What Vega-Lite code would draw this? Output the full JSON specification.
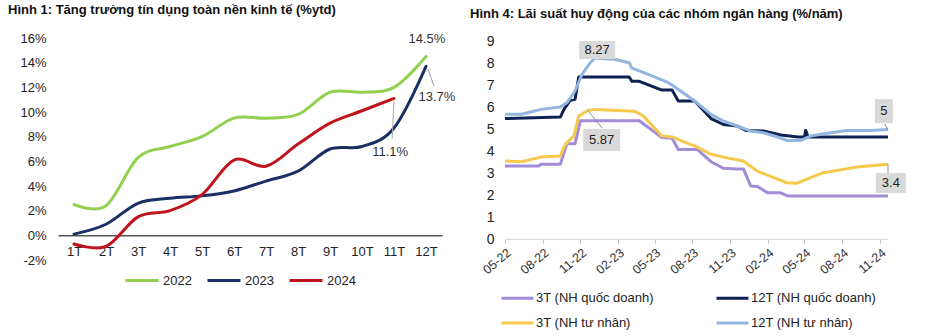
{
  "$schema": "https://vega.github.io/schema/vega-lite/v6.json",
  "background": "white",
  "padding": {"left": 8, "top": 3, "right": 0, "bottom": 0},
  "config": {
    "view": {"stroke": null},
    "font": "Liberation Sans",
    "axis": {"labelFont": "Liberation Sans", "labelColor": "#222222", "labelOverlap": false},
    "legend": {"labelFont": "Liberation Sans", "labelColor": "#222222"},
    "title": {"font": "Liberation Sans", "fontWeight": "bold", "fontSize": 13, "color": "#111111", "anchor": "start", "frame": "bounds"}
  },
  "datasets": {
    "credit": [
      {"m": 1, "s": "2022", "v": 2.5}, {"m": 2, "s": "2022", "v": 2.4}, {"m": 3, "s": "2022", "v": 6.3}, {"m": 4, "s": "2022", "v": 7.2},
      {"m": 5, "s": "2022", "v": 8.0}, {"m": 6, "s": "2022", "v": 9.5}, {"m": 7, "s": "2022", "v": 9.5}, {"m": 8, "s": "2022", "v": 9.8},
      {"m": 9, "s": "2022", "v": 11.6}, {"m": 10, "s": "2022", "v": 11.6}, {"m": 11, "s": "2022", "v": 12.0}, {"m": 12, "s": "2022", "v": 14.5},
      {"m": 1, "s": "2023", "v": 0.1}, {"m": 2, "s": "2023", "v": 0.9}, {"m": 3, "s": "2023", "v": 2.6}, {"m": 4, "s": "2023", "v": 3.0},
      {"m": 5, "s": "2023", "v": 3.2}, {"m": 6, "s": "2023", "v": 3.6}, {"m": 7, "s": "2023", "v": 4.4}, {"m": 8, "s": "2023", "v": 5.2},
      {"m": 9, "s": "2023", "v": 7.0}, {"m": 10, "s": "2023", "v": 7.2}, {"m": 11, "s": "2023", "v": 8.7}, {"m": 12, "s": "2023", "v": 13.7},
      {"m": 1, "s": "2024", "v": -0.7}, {"m": 2, "s": "2024", "v": -0.9}, {"m": 3, "s": "2024", "v": 1.5}, {"m": 4, "s": "2024", "v": 2.0},
      {"m": 5, "s": "2024", "v": 3.3}, {"m": 6, "s": "2024", "v": 6.1}, {"m": 7, "s": "2024", "v": 5.6}, {"m": 8, "s": "2024", "v": 7.4},
      {"m": 9, "s": "2024", "v": 9.1}, {"m": 10, "s": "2024", "v": 10.1}, {"m": 11, "s": "2024", "v": 11.1}
    ],
    "leftLabels": [
      {"m": 12.03, "v": 15.93, "label": "14.5%"},
      {"m": 12.34, "v": 11.2, "label": "13.7%"},
      {"m": 10.88, "v": 6.75, "label": "11.1%"}
    ],
    "leftLeaders": [
      {"m": 12.06, "v": 13.5, "m2": 12.25, "v2": 12.1},
      {"m": 11.0, "v": 10.9, "m2": 10.94, "v2": 7.8}
    ],
    "rates": [
      {"d": "2022-05-01", "s": "3T (NH quốc doanh)", "v": 3.33}, {"d": "2022-07-22", "s": "3T (NH quốc doanh)", "v": 3.33},
      {"d": "2022-07-28", "s": "3T (NH quốc doanh)", "v": 3.41}, {"d": "2022-09-13", "s": "3T (NH quốc doanh)", "v": 3.41},
      {"d": "2022-09-29", "s": "3T (NH quốc doanh)", "v": 4.35}, {"d": "2022-10-19", "s": "3T (NH quốc doanh)", "v": 4.35},
      {"d": "2022-11-01", "s": "3T (NH quốc doanh)", "v": 5.4}, {"d": "2023-03-25", "s": "3T (NH quốc doanh)", "v": 5.4},
      {"d": "2023-05-19", "s": "3T (NH quốc doanh)", "v": 4.63}, {"d": "2023-06-13", "s": "3T (NH quốc doanh)", "v": 4.6},
      {"d": "2023-06-28", "s": "3T (NH quốc doanh)", "v": 4.09}, {"d": "2023-08-13", "s": "3T (NH quốc doanh)", "v": 4.09},
      {"d": "2023-09-16", "s": "3T (NH quốc doanh)", "v": 3.53}, {"d": "2023-10-16", "s": "3T (NH quốc doanh)", "v": 3.23},
      {"d": "2023-11-19", "s": "3T (NH quốc doanh)", "v": 3.2}, {"d": "2023-12-04", "s": "3T (NH quốc doanh)", "v": 3.2},
      {"d": "2023-12-22", "s": "3T (NH quốc doanh)", "v": 2.42}, {"d": "2024-01-07", "s": "3T (NH quốc doanh)", "v": 2.4},
      {"d": "2024-02-01", "s": "3T (NH quốc doanh)", "v": 2.11}, {"d": "2024-03-04", "s": "3T (NH quốc doanh)", "v": 2.11},
      {"d": "2024-03-22", "s": "3T (NH quốc doanh)", "v": 1.96}, {"d": "2024-11-21", "s": "3T (NH quốc doanh)", "v": 1.96},

      {"d": "2022-05-01", "s": "12T (NH quốc doanh)", "v": 5.5}, {"d": "2022-09-13", "s": "12T (NH quốc doanh)", "v": 5.57},
      {"d": "2022-09-22", "s": "12T (NH quốc doanh)", "v": 5.92}, {"d": "2022-10-07", "s": "12T (NH quốc doanh)", "v": 6.33},
      {"d": "2022-10-19", "s": "12T (NH quốc doanh)", "v": 6.38}, {"d": "2022-10-28", "s": "12T (NH quốc doanh)", "v": 7.4},
      {"d": "2023-02-28", "s": "12T (NH quốc doanh)", "v": 7.4}, {"d": "2023-03-07", "s": "12T (NH quốc doanh)", "v": 7.2},
      {"d": "2023-03-25", "s": "12T (NH quốc doanh)", "v": 7.2}, {"d": "2023-05-19", "s": "12T (NH quốc doanh)", "v": 6.8},
      {"d": "2023-06-13", "s": "12T (NH quốc doanh)", "v": 6.8}, {"d": "2023-06-28", "s": "12T (NH quốc doanh)", "v": 6.3},
      {"d": "2023-08-07", "s": "12T (NH quốc doanh)", "v": 6.3}, {"d": "2023-09-16", "s": "12T (NH quốc doanh)", "v": 5.5},
      {"d": "2023-10-16", "s": "12T (NH quốc doanh)", "v": 5.23}, {"d": "2023-11-19", "s": "12T (NH quốc doanh)", "v": 5.16},
      {"d": "2023-12-10", "s": "12T (NH quốc doanh)", "v": 4.96}, {"d": "2024-01-22", "s": "12T (NH quốc doanh)", "v": 4.93},
      {"d": "2024-03-04", "s": "12T (NH quốc doanh)", "v": 4.75}, {"d": "2024-04-16", "s": "12T (NH quốc doanh)", "v": 4.66},
      {"d": "2024-05-01", "s": "12T (NH quốc doanh)", "v": 4.66}, {"d": "2024-05-04", "s": "12T (NH quốc doanh)", "v": 4.96},
      {"d": "2024-05-10", "s": "12T (NH quốc doanh)", "v": 4.66}, {"d": "2024-11-21", "s": "12T (NH quốc doanh)", "v": 4.66},

      {"d": "2022-05-01", "s": "3T (NH tư nhân)", "v": 3.56}, {"d": "2022-06-10", "s": "3T (NH tư nhân)", "v": 3.53},
      {"d": "2022-07-28", "s": "3T (NH tư nhân)", "v": 3.74}, {"d": "2022-09-13", "s": "3T (NH tư nhân)", "v": 3.79},
      {"d": "2022-09-25", "s": "3T (NH tư nhân)", "v": 4.32}, {"d": "2022-10-16", "s": "3T (NH tư nhân)", "v": 4.7},
      {"d": "2022-10-28", "s": "3T (NH tư nhân)", "v": 5.62}, {"d": "2022-11-19", "s": "3T (NH tư nhân)", "v": 5.87},
      {"d": "2022-12-07", "s": "3T (NH tư nhân)", "v": 5.92}, {"d": "2023-03-13", "s": "3T (NH tư nhân)", "v": 5.84},
      {"d": "2023-04-04", "s": "3T (NH tư nhân)", "v": 5.62}, {"d": "2023-05-19", "s": "3T (NH tư nhân)", "v": 4.7},
      {"d": "2023-06-13", "s": "3T (NH tư nhân)", "v": 4.66}, {"d": "2023-07-27", "s": "3T (NH tư nhân)", "v": 4.32},
      {"d": "2023-08-07", "s": "3T (NH tư nhân)", "v": 4.25}, {"d": "2023-09-16", "s": "3T (NH tư nhân)", "v": 3.87},
      {"d": "2023-10-16", "s": "3T (NH tư nhân)", "v": 3.74}, {"d": "2023-12-04", "s": "3T (NH tư nhân)", "v": 3.56},
      {"d": "2024-01-07", "s": "3T (NH tư nhân)", "v": 3.1}, {"d": "2024-02-16", "s": "3T (NH tư nhân)", "v": 2.8},
      {"d": "2024-03-19", "s": "3T (NH tư nhân)", "v": 2.57}, {"d": "2024-04-13", "s": "3T (NH tư nhân)", "v": 2.55},
      {"d": "2024-05-16", "s": "3T (NH tư nhân)", "v": 2.8}, {"d": "2024-06-16", "s": "3T (NH tư nhân)", "v": 3.03},
      {"d": "2024-08-04", "s": "3T (NH tư nhân)", "v": 3.18}, {"d": "2024-09-07", "s": "3T (NH tư nhân)", "v": 3.29},
      {"d": "2024-11-21", "s": "3T (NH tư nhân)", "v": 3.41},

      {"d": "2022-05-01", "s": "12T (NH tư nhân)", "v": 5.7}, {"d": "2022-06-10", "s": "12T (NH tư nhân)", "v": 5.7},
      {"d": "2022-07-28", "s": "12T (NH tư nhân)", "v": 5.92}, {"d": "2022-09-13", "s": "12T (NH tư nhân)", "v": 6.03},
      {"d": "2022-09-29", "s": "12T (NH tư nhân)", "v": 6.22}, {"d": "2022-10-19", "s": "12T (NH tư nhân)", "v": 6.76},
      {"d": "2022-11-05", "s": "12T (NH tư nhân)", "v": 7.52}, {"d": "2022-11-25", "s": "12T (NH tư nhân)", "v": 8.05},
      {"d": "2022-12-07", "s": "12T (NH tư nhân)", "v": 8.27}, {"d": "2023-01-25", "s": "12T (NH tư nhân)", "v": 8.2},
      {"d": "2023-02-28", "s": "12T (NH tư nhân)", "v": 8.05}, {"d": "2023-03-07", "s": "12T (NH tư nhân)", "v": 7.8},
      {"d": "2023-04-16", "s": "12T (NH tư nhân)", "v": 7.52}, {"d": "2023-06-04", "s": "12T (NH tư nhân)", "v": 7.14},
      {"d": "2023-06-19", "s": "12T (NH tư nhân)", "v": 6.95}, {"d": "2023-08-07", "s": "12T (NH tư nhân)", "v": 6.3},
      {"d": "2023-09-16", "s": "12T (NH tư nhân)", "v": 5.69}, {"d": "2023-10-16", "s": "12T (NH tư nhân)", "v": 5.39},
      {"d": "2023-11-19", "s": "12T (NH tư nhân)", "v": 5.16}, {"d": "2023-12-22", "s": "12T (NH tư nhân)", "v": 4.93},
      {"d": "2024-01-22", "s": "12T (NH tư nhân)", "v": 4.85}, {"d": "2024-02-25", "s": "12T (NH tư nhân)", "v": 4.66},
      {"d": "2024-03-19", "s": "12T (NH tư nhân)", "v": 4.5}, {"d": "2024-04-22", "s": "12T (NH tư nhân)", "v": 4.5},
      {"d": "2024-05-16", "s": "12T (NH tư nhân)", "v": 4.7}, {"d": "2024-07-04", "s": "12T (NH tư nhân)", "v": 4.85},
      {"d": "2024-08-13", "s": "12T (NH tư nhân)", "v": 4.96}, {"d": "2024-10-10", "s": "12T (NH tư nhân)", "v": 4.96},
      {"d": "2024-11-21", "s": "12T (NH tư nhân)", "v": 5.0}
    ],
    "rightLabels": [
      {"d": "2022-12-12", "v": 8.63, "label": "8.27"},
      {"d": "2022-12-23", "v": 4.52, "label": "5.87"},
      {"d": "2024-11-11", "v": 5.84, "label": "5"},
      {"d": "2024-11-28", "v": 2.56, "label": "3.4"}
    ],
    "rightLeaders": [
      {"d": "2022-11-19", "v": 5.87, "d2": "2022-12-24", "v2": 5.07},
      {"d": "2024-11-21", "v": 5.0, "d2": "2024-11-13", "v2": 5.25},
      {"d": "2024-11-21", "v": 3.41, "d2": "2024-11-21", "v2": 3.01}
    ]
  },
  "resolve": {"scale": {"color": "independent", "x": "independent", "y": "independent"}, "legend": {"color": "independent"}},
  "bounds": "flush",
  "spacing": 63,
  "hconcat": [
    {
      "width": 384,
      "height": 222,
      "title": {"text": "Hình 1: Tăng trưởng tín dụng toàn nền kinh tế (%ytd)", "offset": 15.5},
      "encoding": {
        "x": {"field": "m", "type": "quantitative", "scale": {"domain": [0.5, 12.5], "nice": false, "zero": false},
          "axis": {"values": [1,2,3,4,5,6,7,8,9,10,11,12], "labelExpr": "datum.value + 'T'", "title": null, "grid": false, "ticks": false,
            "labelOverlap": false, "labelFlush": false,
            "domain": true, "domainColor": "#000000", "domainWidth": 1, "offset": -24.67, "labelPadding": 10, "labelFontSize": 13}},
        "y": {"field": "v", "type": "quantitative", "scale": {"domain": [-2, 16], "nice": false},
          "axis": {"values": [-2,0,2,4,6,8,10,12,14,16], "labelExpr": "datum.value + '%'", "title": null, "grid": false, "ticks": false,
            "labelOverlap": false, "labelFlush": false,
            "domain": false, "labelPadding": 12, "minExtent": 50, "labelFontSize": 13}}
      },
      "layer": [
        {
          "data": {"name": "credit"},
          "mark": {"type": "line", "interpolate": "cardinal", "strokeWidth": 3, "strokeCap": "round"},
          "encoding": {
            "color": {"field": "s", "type": "nominal", "scale": {"domain": ["2022", "2023", "2024"], "range": ["#92D050", "#1B2F66", "#C0141C"]},
              "legend": {"orient": "none", "legendX": 66, "legendY": 224.5, "direction": "horizontal", "title": null, "symbolType": "stroke",
                "symbolSize": 1089, "symbolStrokeWidth": 3, "labelFontSize": 13, "labelOffset": 3, "columnPadding": 9}}
          }
        },
        {
          "data": {"name": "leftLeaders"},
          "mark": {"type": "rule", "color": "#a6a6a6", "strokeWidth": 1},
          "encoding": {"x2": {"field": "m2"}, "y2": {"field": "v2"}}
        },
        {
          "data": {"name": "leftLabels"},
          "mark": {"type": "text", "fontSize": 13, "color": "#333333", "align": "center", "baseline": "middle"},
          "encoding": {"text": {"field": "label"}}
        }
      ]
    },
    {
      "width": 383,
      "height": 201,
      "title": {"text": "Hình 4: Lãi suất huy động của các nhóm ngân hàng (%/năm)", "offset": 14},
      "encoding": {
        "x": {"field": "d", "type": "temporal",
          "scale": {"type": "utc", "nice": false, "domain": [{"year": 2022, "month": 5, "date": 1, "utc": true}, {"year": 2024, "month": 11, "date": 21, "utc": true}]},
          "axis": {"values": [
            {"year": 2022, "month": 5, "date": 1, "utc": true}, {"year": 2022, "month": 8, "date": 1, "utc": true},
            {"year": 2022, "month": 11, "date": 1, "utc": true}, {"year": 2023, "month": 2, "date": 1, "utc": true},
            {"year": 2023, "month": 5, "date": 1, "utc": true}, {"year": 2023, "month": 8, "date": 1, "utc": true},
            {"year": 2023, "month": 11, "date": 1, "utc": true}, {"year": 2024, "month": 2, "date": 1, "utc": true},
            {"year": 2024, "month": 5, "date": 1, "utc": true}, {"year": 2024, "month": 8, "date": 1, "utc": true},
            {"year": 2024, "month": 11, "date": 1, "utc": true}],
            "labelOverlap": false, "labelFlush": false,
            "format": "%m-%y", "labelAngle": -40, "title": null, "grid": false, "domainColor": "#d9d9d9", "tickColor": "#bfbfbf",
            "tickSize": 4, "labelPadding": 3, "labelFontSize": 12.5, "labelColor": "#333333"}},
        "y": {"field": "v", "type": "quantitative", "scale": {"domain": [0, 9.18], "nice": false},
          "axis": {"values": [0,1,2,3,4,5,6,7,8,9], "title": null, "grid": false, "ticks": false, "domain": false,
            "labelOverlap": false, "labelFlush": false,
            "labelPadding": 11, "minExtent": 35, "labelFontSize": 14}}
      },
      "layer": [
        {
          "data": {"name": "rates"},
          "mark": {"type": "line", "strokeWidth": 3, "strokeJoin": "round"},
          "encoding": {
            "color": {"field": "s", "type": "nominal",
              "scale": {"domain": ["3T (NH quốc doanh)", "12T (NH quốc doanh)", "3T (NH tư nhân)", "12T (NH tư nhân)"],
                "range": ["#A08CD8", "#0D2152", "#F6C84C", "#93B6E0"]},
              "legend": {"orient": "none", "legendX": -5, "legendY": 242.5, "columns": 2, "direction": "horizontal", "title": null, "symbolType": "stroke",
                "symbolSize": 1024, "symbolStrokeWidth": 3, "labelFontSize": 13, "labelOffset": 1, "columnPadding": 56, "rowPadding": -14}}
          }
        },
        {
          "data": {"name": "rightLeaders"},
          "mark": {"type": "rule", "color": "#8c8c8c", "strokeWidth": 1},
          "encoding": {"x2": {"field": "d2"}, "y2": {"field": "v2"}}
        },
        {
          "data": {"name": "rightLabels"},
          "mark": {"type": "point", "filled": true, "color": "#d9d9d9", "opacity": 1, "strokeWidth": 0},
          "encoding": {
            "size": {"value": 4},
            "shape": {"field": "label", "type": "nominal", "legend": null,
              "scale": {"domain": ["8.27", "5.87", "5", "3.4"],
                "range": ["M-18,-9H18V9H-18Z", "M-18.5,-11H18.5V11H-18.5Z", "M-9,-12H9V12H-9Z", "M-15,-10H15V10H-15Z"]}}
          }
        },
        {
          "data": {"name": "rightLabels"},
          "mark": {"type": "text", "fontSize": 13, "color": "#222222", "align": "center", "baseline": "middle"},
          "encoding": {"text": {"field": "label"}}
        }
      ]
    }
  ]
}
